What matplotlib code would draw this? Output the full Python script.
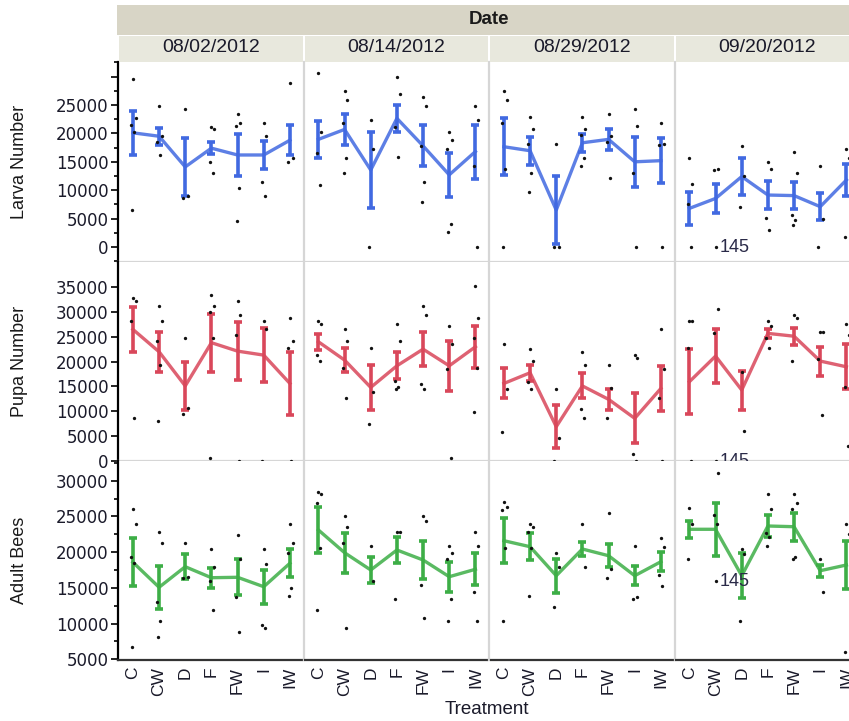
import matplotlib
matplotlib.use('Agg')
import matplotlib.pyplot as plt
from matplotlib.patches import Rectangle

dates = ['08/02/2012', '08/14/2012', '08/29/2012', '09/20/2012']
treatments = ['C', 'CW', 'D', 'F', 'FW', 'I', 'IW']

# larva counts per date: mean and standard error for each treatment, plus colony values
larva_mean = [
    [20100, 19500, 14100, 17400, 16200, 16200, 18800],
    [18950, 20700, 13550, 22650, 17800, 12700, 16800],
    [17650, 16950, 6500, 18350, 18950, 15000, 15200],
    [6800, 8550, 12400, 9150, 9050, 7100, 11800],
]
larva_err = [
    [3850, 1500, 5100, 1100, 3700, 2400, 2600],
    [3300, 2800, 6750, 2430, 3600, 3850, 4750],
    [5050, 2430, 6000, 1550, 1900, 4350, 3950],
    [2900, 2550, 3200, 2430, 2430, 2430, 2800],
]
larva_pts = [
    [[29600, 22700, 21500, 20200, 6500], [24800, 19500, 18500, 16200], [24300, 8900, 8600],
     [21200, 20700, 15000, 13100], [23400, 21800, 21300, 10400, 4600], [21900, 19600, 11500, 9000],
     [28800, 15600, 15000]],
    [[30600, 20200, 16600, 11000], [27500, 25900, 21900, 15600, 13100], [22400, 17200, 0],
     [29900, 26900, 21200, 15900], [26400, 24800, 17700, 11500, 8000], [20200, 18800, 17200, 4000, 2600],
     [24800, 22400, 14300, 0]],
    [[27500, 25900, 21900, 13700, 0], [22900, 20700, 18200, 13100, 9600], [18200, 0, 0],
     [22900, 20700, 19700, 15600, 14300], [23400, 19500, 18500, 12100], [24300, 21300, 13100, 0],
     [21900, 18200, 18000, 0]],
    [[15600, 11100, 7600, 0], [0, 13700, 13500], [17800, 12500, 7000],
     [15000, 13700, 5050, 3000], [16700, 13100, 5600, 4750, 3900], [14300, 4900, 0],
     [17200, 15600, 1800]],
]

pupa_mean = [
    [26470, 21970, 15100, 23800, 22100, 21300, 15600],
    [23980, 20300, 14800, 19150, 22500, 19150, 22970],
    [15600, 17750, 6900, 15100, 12400, 8580, 14600],
    [15950, 21100, 14270, 25670, 25100, 20100, 18950],
]
pupa_err = [
    [4460, 4020, 4900, 5870, 5830, 5430, 6300],
    [1610, 2410, 4520, 2680, 3420, 5030, 4190],
    [3010, 1570, 4290, 2510, 2080, 5030, 4560],
    [6530, 5390, 3920, 940, 1680, 2910, 4560],
]
pupa_pts = [
    [[32800, 32200, 28100, 8700], [31150, 28100, 24100, 19400, 8000], [24700, 10600, 9400],
     [33400, 31200, 30000, 24700, 540], [32200, 29300, 25300, 0], [28100, 26500, 0],
     [28700, 24100, 22800, 0]],
    [[28100, 27500, 21300, 20100], [26500, 24100, 18800, 12700], [22800, 13900, 7400],
     [27500, 24100, 16100, 14800, 14500], [31200, 29300, 15400, 14500], [27100, 23500, 18500, 540],
     [35200, 28700, 24700, 18800, 9900]],
    [[23500, 14400, 5900], [22500, 20100, 15900, 14500], [14500, 4560, 0],
     [22000, 19400, 10450, 8700], [19400, 14600, 8600], [21300, 20800, 1350, 0],
     [26500, 18600, 12600, 0]],
    [[28100, 28100, 22800, 0], [0, 30550, 25700], [17950, 6100],
     [28100, 27100, 24700, 22800], [29350, 28700, 20100], [26000, 26000, 20600, 9250],
     [27500, 25300, 14900, 3000]],
]

adult_mean = [
    [18580, 15080, 17960, 16420, 16480, 15160, 18440],
    [23100, 19920, 17500, 20300, 18900, 16560, 17600],
    [21600, 20760, 16700, 20440, 19500, 16700, 18660],
    [23200, 23200, 16700, 23660, 23560, 17400, 18200],
]
adult_err = [
    [3380, 3030, 1750, 1400, 2540, 2380, 1940],
    [3270, 2800, 1770, 1820, 2700, 2100, 2220],
    [3150, 1870, 2380, 930, 1630, 1350, 1330],
    [1210, 3740, 3150, 1490, 1990, 840, 3340],
]
adult_pts = [
    [[26080, 23940, 19360, 18440, 6760], [22860, 21320, 12980, 10400, 8160], [21320, 16480, 16400],
     [20440, 17960, 16000, 11900], [22400, 19000, 13760, 8860], [20440, 18300, 9800, 9340],
     [23940, 21320, 19840, 14940, 13860]],
    [[28460, 28100, 26920, 20540, 11900], [25060, 23480, 21240, 9340], [20900, 16000],
     [22860, 22860, 13400], [25060, 24360, 15400, 10830], [20900, 19840, 19040, 13400, 10400],
     [22860, 20900, 14460, 10400]],
    [[26980, 26360, 25900, 20540, 10400], [23940, 23480, 22860, 20540, 13860], [19840, 17880, 12360],
     [23940, 17880], [25440, 17640, 16420], [20900, 13760, 13400],
     [22020, 20760, 16800, 15300]],
    [[26140, 23940, 19000], [15960, 31040, 25200, 23940], [20440, 19700, 10360],
     [28100, 26040, 22640, 22080, 20860], [28100, 26920, 26040, 19360, 19000], [19000, 14460],
     [23940, 22540, 5980]],
]

# colony 145 is labelled: last date, CW, first value in each list
tag_name = '145'
tag_date, tag_treat = 3, 1

W, H = 849, 721
fig = plt.figure(figsize=(W / 100, H / 100), dpi=100)
plt.rcParams['font.family'] = ['Liberation Sans', 'DejaVu Sans']

col_w = 185.5
col_left = [118 + i * col_w for i in range(4)]
row_top = [62, 262, 461]
row_bot = [262, 461, 660]
jit = [0.0, 0.1, -0.07, 0.05, -0.04, 0.12]

rows = [
    ('Larva Number', larva_mean, larva_err, larva_pts, '#4169E1', (-2640, 32570),
     list(range(0, 30001, 5000)), True),
    ('Pupa Number', pupa_mean, pupa_err, pupa_pts, '#D9475A', (0, 40030),
     list(range(0, 35001, 5000)), False),
    ('Adult Bees', adult_mean, adult_err, adult_pts, '#3DAE46', (4900, 32760),
     list(range(5000, 30001, 5000)), True),
]

sep = '#D6D6D6'

for r, (name, mean, err, pts, color, ylim, yticks, minor) in enumerate(rows):
    for c in range(4):
        ax = fig.add_axes([col_left[c] / W, 1 - row_bot[r] / H,
                           col_w / W, (row_bot[r] - row_top[r]) / H])
        x = list(range(len(treatments)))
        ax.errorbar(x, mean[c], yerr=err[c], fmt='none', ecolor=color,
                    elinewidth=2.6, capsize=3, capthick=2.6, zorder=3)
        ax.plot(x, mean[c], color=color, lw=2.4, alpha=0.85, zorder=2,
                solid_joinstyle='round')
        for i, vals in enumerate(pts[c]):
            xs = [i + jit[k % len(jit)] for k in range(len(vals))]
            ax.plot(xs, vals, 'o', ms=2.4, mew=0, color='#111111', zorder=4, clip_on=False)
        if c == tag_date:
            ax.annotate(tag_name, (tag_treat + jit[0], pts[c][tag_treat][0]),
                        xytext=(3, 0), textcoords='offset points', va='center',
                        ha='left', fontsize=13, color='#2a2a48', annotation_clip=False)

        ax.set_xlim(-0.57, 6.52)
        ax.set_ylim(*ylim)
        ax.spines['top'].set_visible(False)
        ax.spines['right'].set_visible(False)

        if c == 0:
            ax.spines['left'].set_color('black')
            ax.spines['left'].set_linewidth(1.6)
            ax.set_yticks(yticks)
            labels = [str(v) for v in yticks]
            if r == 0:
                labels[-1] = ''
            ax.set_yticklabels(labels, family='DejaVu Sans', fontsize=12, color='#1a1a2a')
            if minor:
                ax.set_yticks([v + 2500 for v in [yticks[0] - 5000] + yticks
                               if ylim[0] <= v + 2500 <= ylim[1]], minor=True)
            ax.tick_params(axis='y', which='major', length=5, width=1.2, pad=2,
                           direction='out', color='black')
            ax.tick_params(axis='y', which='minor', length=3, width=1.2,
                           direction='out', color='black')
        else:
            ax.spines['left'].set_color(sep)
            ax.spines['left'].set_linewidth(1.6)
            ax.set_yticks([])

        if r == 2:
            ax.spines['bottom'].set_color('#333333')
            ax.spines['bottom'].set_linewidth(1.6)
            ax.spines['bottom'].set_bounds(-0.57 if c == 0 else -0.5, 6.45)
            ax.set_xticks(x)
            ax.set_xticklabels(treatments, rotation=90, fontsize=12.5, color='#1a1a2a')
            ax.tick_params(axis='x', length=0, pad=5)
        else:
            ax.spines['bottom'].set_color(sep)
            ax.spines['bottom'].set_linewidth(1.6)
            ax.set_xticks([])

    fig.text(20 / W, 1 - (row_top[r] + row_bot[r]) / 2 / H, name, rotation=90,
             ha='center', va='center', fontsize=13, color='#1a1a1a')

# header strips
right_edge = col_left[-1] + col_w
fig.add_artist(Rectangle((117 / W, 1 - 35 / H), (right_edge - 117) / W, 30 / H,
                         transform=fig.transFigure, facecolor='#D8D5C6', edgecolor='none'))
fig.text((117 + right_edge) / 2 / W, 1 - 19 / H, 'Date', ha='center', va='center',
         fontsize=13.5, fontweight='bold', color='#1a1a1a')
for c, d in enumerate(dates):
    fig.add_artist(Rectangle(((col_left[c] + 1) / W, 1 - 62 / H), (col_w - 2) / W, 26 / H,
                             transform=fig.transFigure, facecolor='#E8E8DD', edgecolor='none'))
    fig.text((col_left[c] + col_w / 2) / W, 1 - 48 / H, d, ha='center', va='center',
             fontsize=14, color='#1a1a2a')

fig.text(487 / W, 1 - 710 / H, 'Treatment', ha='center', va='center', fontsize=13.5,
         color='#1a1a2a')

fig.savefig('out.png', dpi=100, facecolor='white')
